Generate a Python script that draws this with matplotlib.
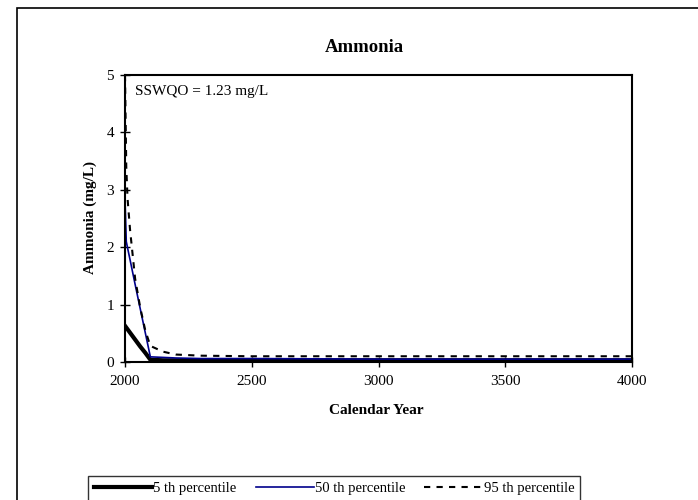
import numpy as np
import matplotlib.pyplot as plt
from matplotlib.patches import Rectangle

plt.rcParams['font.family'] = ['Liberation Serif', 'DejaVu Serif']

# Data
years = [2000, 2005, 2010, 2020, 2040, 2060, 2080, 2100, 2150, 2200, 2300, 2500, 3000, 3500, 4000]
p5 = [0.63, 0.60, 0.57, 0.51, 0.39, 0.27, 0.16, 0.04, 0.03, 0.03, 0.03, 0.03, 0.03, 0.03, 0.03]
p50 = [2.85, 2.10, 1.99, 1.78, 1.35, 0.93, 0.51, 0.09, 0.08, 0.07, 0.06, 0.06, 0.05, 0.05, 0.05]
p95 = [5.0, 3.40, 2.85, 2.30, 1.45, 0.95, 0.55, 0.28, 0.18, 0.13, 0.11, 0.10, 0.10, 0.10, 0.10]
labels = ["5 th percentile", "50 th percentile", "95 th percentile"]
xticks = [2000, 2500, 3000, 3500, 4000]
yticks = [0, 1, 2, 3, 4, 5]

W, H = 698, 500
fig = plt.figure(figsize=(W / 100, H / 100), dpi=100)

# outer frame of the chart area
fig.patches.append(Rectangle((17 / W, -0.1), 1.2, 1.1 - 8 / H, transform=fig.transFigure,
                             fill=False, edgecolor='black', linewidth=1.2))

ax = fig.add_axes([125 / W, 1 - 362 / H, (632 - 125) / W, (362 - 75) / H])

l1, = ax.plot(years, p5, color='black', linewidth=3, label=labels[0])
l2, = ax.plot(years, p50, color='#00008b', linewidth=1.2, label=labels[1])
l3, = ax.plot(years, p95, color='black', linewidth=1.5, linestyle=(0, (3, 3)), label=labels[2])

ax.set_xlim(2000, 4000)
ax.set_ylim(0, 5)
ax.set_xticks(xticks)
ax.set_yticks(yticks)
ax.tick_params(direction='inout', length=7, width=1, labelsize=11)
ax.tick_params(axis='x', pad=6)
ax.tick_params(axis='y', pad=4.5)
for s in ax.spines.values():
    s.set_linewidth(1.5)

ax.text(135 / W, 1 - 92 / H, "SSWQO = 1.23 mg/L", transform=fig.transFigure, fontsize=11, va='center')

fig.text(364 / W, 1 - 47 / H, "Ammonia", ha='center', va='center', fontsize=13.5, fontweight='bold')
fig.text(376 / W, 1 - 410 / H, "Calendar Year", ha='center', va='center', fontsize=11, fontweight='bold')
fig.text(90 / W, 1 - 218 / H, "Ammonia (mg/L)", ha='center', va='center', rotation=90,
         fontsize=11, fontweight='bold')

leg = fig.legend(handles=[l1, l2, l3], loc='upper left', ncol=3,
                 bbox_to_anchor=(88 / W, 1 - 476 / H, (580 - 88) / W, 0),
                 mode='expand', frameon=True, fancybox=False, fontsize=10.5,
                 handlelength=4.0, handletextpad=0.05, borderaxespad=0, borderpad=0.4,
                 columnspacing=0.8)
leg.get_frame().set_edgecolor('black')
leg.get_frame().set_linewidth(1)

fig.savefig("out.png", dpi=100)
